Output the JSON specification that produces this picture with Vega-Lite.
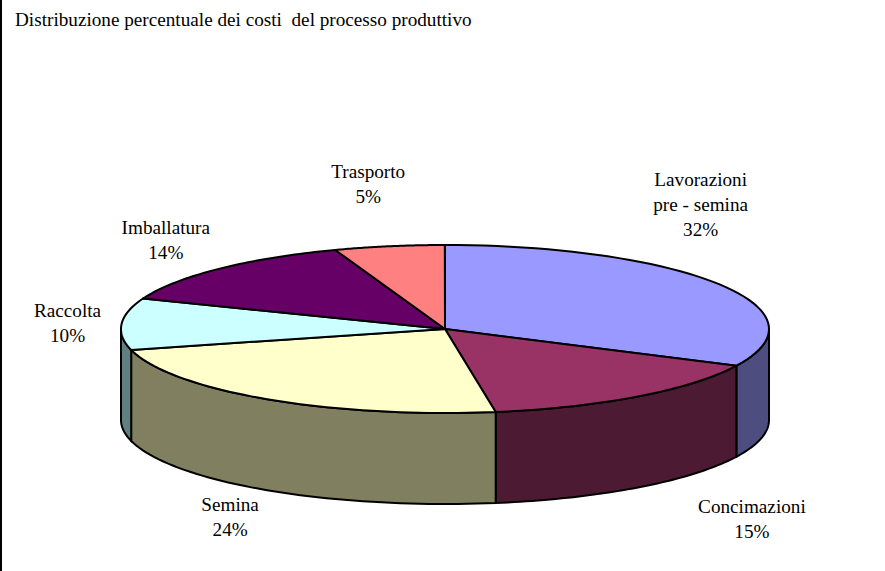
{
"$schema":"https://vega.github.io/schema/vega-lite/v6.json",
"width":885,"height":571,"padding":0,"autosize":{"type":"none"},"background":"white",
"config":{"view":{"stroke":null},"font":"Liberation Serif"},
"title":{"text":"Distribuzione percentuale dei costi \u00a0del processo produttivo","anchor":"start","frame":"group","orient":"top","offset":-31,"dx":15,"font":"Liberation Serif","fontSize":19.2,"fontWeight":"normal","color":"black"},
"data":{"values":[
{"ord":1,"name":"Lavorazioni\npre - semina","pct":32.2},
{"ord":2,"name":"Concimazioni","pct":15.3},
{"ord":3,"name":"Semina","pct":23.5},
{"ord":4,"name":"Raccolta","pct":9.9},
{"ord":5,"name":"Imballatura","pct":13.6},
{"ord":6,"name":"Trasporto","pct":5.49}
]},
"transform":[
{"window":[{"op":"sum","field":"pct","as":"cum"}],"sort":[{"field":"ord","order":"ascending"}]},
{"calculate":"(datum.cum-datum.pct)*3.6","as":"start"},
{"calculate":"datum.cum*3.6","as":"end"},
{"calculate":"(datum.start+datum.end)/2*PI/180","as":"mid"},
{"calculate":"datum.name+'\\n'+round(datum.pct)+'%'","as":"label"},
{"calculate":"324*sin(datum.mid)","as":"lx"},
{"calculate":"-83*cos(datum.mid)","as":"ly"}
],
"resolve":{"scale":{"fill":"independent"}},
"layer":[
{
"transform":[
{"filter":"datum.end>90 && datum.start<270"},
{"calculate":"max(90,datum.start)","as":"a0"},
{"calculate":"min(270,datum.end)","as":"a1"},
{"calculate":"sequence(0,1.001,0.02)","as":"t"},
{"flatten":["t"]},
{"calculate":"(datum.a0+datum.t*(datum.a1-datum.a0))*PI/180","as":"th"},
{"calculate":"324*sin(datum.th)","as":"px"},
{"calculate":"-84*cos(datum.th)","as":"py"},
{"calculate":"datum.py+91","as":"py2"}
],
"mark":{"type":"area","stroke":"black","strokeWidth":2,"opacity":1},
"encoding":{
"x":{"field":"px","type":"quantitative","scale":{"domain":[-445,440],"nice":false,"zero":false},"axis":null},
"y":{"field":"py","type":"quantitative","scale":{"domain":[242,-329],"nice":false,"zero":false},"axis":null,"stack":null},
"y2":{"field":"py2"},
"fill":{"field":"name","type":"nominal","legend":null,"scale":{"domain":["Lavorazioni\npre - semina","Concimazioni","Semina","Raccolta"],"range":["#4d4d80","#4d1a33","#808060","#608080"]}}
}
},
{
"transform":[
{"calculate":"sequence(-0.04,1.0601,0.02)","as":"t"},
{"flatten":["t"]},
{"calculate":"(datum.start+max(0,min(1,datum.t))*(datum.end-datum.start))*PI/180","as":"th"},
{"calculate":"datum.t<-0.001||datum.t>1.001?0:324*sin(datum.th)","as":"px"},
{"calculate":"datum.t<-0.001||datum.t>1.001?0:-84*cos(datum.th)","as":"py"}
],
"mark":{"type":"line","stroke":"black","strokeWidth":2,"strokeJoin":"round"},
"encoding":{
"x":{"field":"px","type":"quantitative","scale":{"domain":[-445,440],"nice":false,"zero":false},"axis":null},
"y":{"field":"py","type":"quantitative","scale":{"domain":[242,-329],"nice":false,"zero":false},"axis":null},
"order":{"field":"t","type":"quantitative"},
"fill":{"field":"ord","type":"nominal","legend":null,"scale":{"domain":[1,2,3,4,5,6],"range":["#9999ff","#993366","#ffffcc","#ccffff","#660066","#ff8080"]}}
}
},
{"transform":[{"filter":"datum.ord==1"}],"mark":{"type":"text","font":"Liberation Serif","fontSize":19.2,"lineBreak":"\n","lineHeight":25,"dx":-19,"dy":-105,"color":"black"},"encoding":{"x":{"field":"lx","type":"quantitative"},"y":{"field":"ly","type":"quantitative"},"text":{"field":"label"}}},
{"transform":[{"filter":"datum.ord==2"}],"mark":{"type":"text","font":"Liberation Serif","fontSize":19.2,"lineBreak":"\n","lineHeight":25,"dx":114,"dy":111,"color":"black"},"encoding":{"x":{"field":"lx","type":"quantitative"},"y":{"field":"ly","type":"quantitative"},"text":{"field":"label"}}},
{"transform":[{"filter":"datum.ord==3"}],"mark":{"type":"text","font":"Liberation Serif","fontSize":19.2,"lineBreak":"\n","lineHeight":25,"dx":-37,"dy":107,"color":"black"},"encoding":{"x":{"field":"lx","type":"quantitative"},"y":{"field":"ly","type":"quantitative"},"text":{"field":"label"}}},
{"transform":[{"filter":"datum.ord==4"}],"mark":{"type":"text","font":"Liberation Serif","fontSize":19.2,"lineBreak":"\n","lineHeight":25,"dx":-54,"dy":-13,"color":"black"},"encoding":{"x":{"field":"lx","type":"quantitative"},"y":{"field":"ly","type":"quantitative"},"text":{"field":"label"}}},
{"transform":[{"filter":"datum.ord==5"}],"mark":{"type":"text","font":"Liberation Serif","fontSize":19.2,"lineBreak":"\n","lineHeight":25,"dx":-53,"dy":-42,"color":"black"},"encoding":{"x":{"field":"lx","type":"quantitative"},"y":{"field":"ly","type":"quantitative"},"text":{"field":"label"}}},
{"transform":[{"filter":"datum.ord==6"}],"mark":{"type":"text","font":"Liberation Serif","fontSize":19.2,"lineBreak":"\n","lineHeight":25,"dx":-21,"dy":-75,"color":"black"},"encoding":{"x":{"field":"lx","type":"quantitative"},"y":{"field":"ly","type":"quantitative"},"text":{"field":"label"}}},
{"mark":{"type":"rule","stroke":"black","strokeWidth":2},"encoding":{"x":{"datum":-444}}}
]
}
